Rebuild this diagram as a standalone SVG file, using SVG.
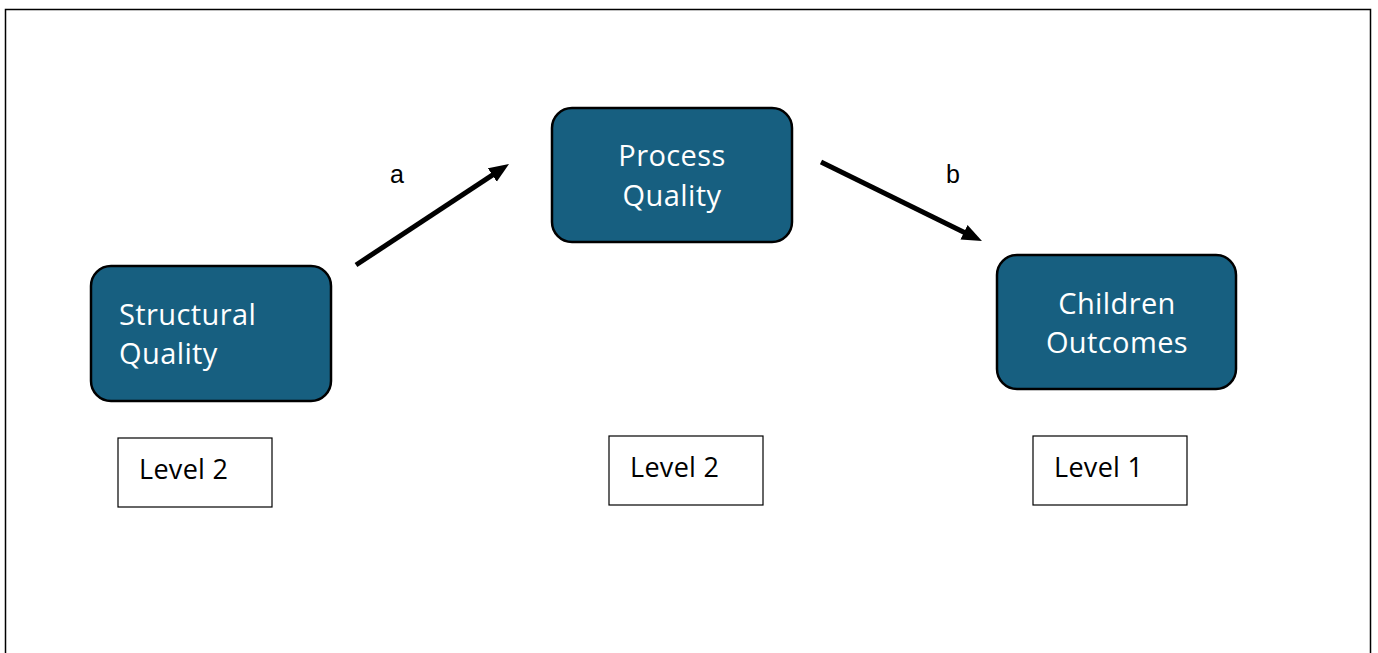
<svg xmlns="http://www.w3.org/2000/svg" width="1378" height="653" viewBox="0 0 1378 653">
<defs>
<marker id="ah" markerWidth="4.2" markerHeight="3.4" refX="1" refY="1.6" orient="auto" markerUnits="strokeWidth">
<path d="M0,0 L4,1.6 L0,3.2 Z" fill="#000"/>
</marker>
<style>
.node{fill:#175f80;stroke:#000;stroke-width:2.5}
.nt{font-family:"Open Sans","Noto Sans",sans-serif;font-size:29px;letter-spacing:0.4px;fill:#fff}
.lvl{fill:#fff;stroke:#000;stroke-width:1.2}
.lt{font-family:"Open Sans","Noto Sans",sans-serif;font-size:27px;letter-spacing:0.3px;fill:#000}
.conn{stroke:#000;stroke-width:5;fill:none;marker-end:url(#ah)}
.cl{font-family:"Liberation Sans",Arial,sans-serif;font-size:25px;fill:#000}
</style>
</defs>
<rect width="1378" height="653" fill="#fff"/>
<rect x="5.5" y="9.5" width="1365" height="660" fill="none" stroke="#000" stroke-width="1.5"/>
<g id="connectors">
<line class="conn" x1="356" y1="265" x2="496.5" y2="172.3"/>
<line class="conn" x1="821" y1="162" x2="968.5" y2="234.4"/>
<text class="cl" x="397" y="183" text-anchor="middle">a</text>
<text class="cl" x="953" y="183" text-anchor="middle">b</text>
</g>
<g id="structural-quality">
<rect class="node" x="91" y="266" width="240" height="135" rx="20"/>
<text class="nt" x="119" y="325">Structural</text>
<text class="nt" x="119" y="364">Quality</text>
</g>
<g id="process-quality">
<rect class="node" x="552" y="108" width="240" height="134" rx="20"/>
<text class="nt" x="672" y="166" text-anchor="middle">Process</text>
<text class="nt" x="672" y="206" text-anchor="middle">Quality</text>
</g>
<g id="children-outcomes">
<rect class="node" x="997" y="255" width="239" height="134" rx="20"/>
<text class="nt" x="1117" y="314" text-anchor="middle">Children</text>
<text class="nt" x="1117" y="353" text-anchor="middle">Outcomes</text>
</g>
<g id="level-structural">
<rect class="lvl" x="118" y="438" width="154" height="69"/>
<text class="lt" x="139" y="479">Level 2</text>
</g>
<g id="level-process">
<rect class="lvl" x="609" y="436" width="154" height="69"/>
<text class="lt" x="630" y="477">Level 2</text>
</g>
<g id="level-children">
<rect class="lvl" x="1033" y="436" width="154" height="69"/>
<text class="lt" x="1054" y="477">Level 1</text>
</g>
</svg>
